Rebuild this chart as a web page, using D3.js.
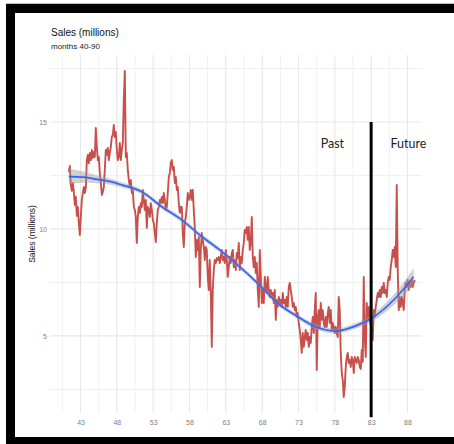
<!DOCTYPE html>
<html>
<head>
<meta charset="utf-8">
<script src="https://cdn.jsdelivr.net/npm/d3@7"></script>
<style>
    body { margin: 0; background: #fff; }
    svg { display: block; }
</style>
</head>
<body>
<div id="chart"></div>
<script>

// sales series, one reading per ~0.14 month, starting at month 41.39
const sales = [
    12.66, 12.94,
    12.06, 11.78, 12.15, 11.73, 11.12, 11.50, 10.61, 11.03, 10.28, 9.72,
    10.56, 11.36, 11.68, 11.96, 11.68, 11.92, 13.22, 13.46, 13.08, 13.55,
    13.22, 13.69, 13.32, 13.60, 13.36, 14.72, 13.83, 13.22, 13.36, 12.62,
    12.15, 11.59, 11.73, 11.96, 12.76, 13.69, 13.46, 13.79, 13.22, 13.55,
    13.83, 14.30, 14.39, 14.86, 14.30, 14.53, 13.69, 13.22, 13.36, 14.02,
    13.22, 13.69, 14.02, 16.03, 17.38, 13.36, 13.55, 12.76, 12.29, 11.96,
    12.29, 11.68, 11.82, 11.03, 10.89, 10.56, 9.35, 10.56, 11.03, 10.75,
    11.21, 11.03, 11.82, 11.36, 10.89, 11.36, 10.05, 11.03, 10.89, 10.56,
    11.21, 10.89, 10.42, 10.28, 9.81, 9.39, 10.28, 10.89, 11.03, 11.36,
    11.21, 11.50, 11.21, 11.68, 11.36, 10.89, 11.03, 11.68, 12.43, 12.62,
    13.08, 13.22, 12.76, 12.90, 12.15, 12.43, 11.82, 11.96, 11.21, 10.75,
    11.03, 11.03, 9.81, 9.16, 10.28, 10.56, 11.03, 11.68, 11.36, 11.50,
    11.82, 11.36, 11.82, 10.89, 10.09, 8.69, 9.49, 9.02, 9.63, 7.29,
    9.02, 9.81, 9.49, 9.16, 8.55, 9.16, 9.02, 7.76, 7.15, 8.55,
    7.01, 4.49, 7.15, 8.08, 8.55, 8.41, 8.64, 8.55, 8.69, 8.41,
    8.69, 9.02, 8.55, 8.69, 8.41, 9.02, 8.55, 7.76, 8.22, 8.69,
    8.41, 8.88, 9.02, 8.22, 8.55, 8.08, 8.88, 8.64, 9.35, 8.08,
    8.69, 8.41, 9.02, 9.35, 9.95, 9.81, 10.09, 9.49, 10.09, 9.02,
    9.35, 10.56, 8.69, 8.22, 8.69, 7.94, 8.41, 7.15, 6.36, 9.02,
    7.76, 6.54, 7.15, 6.54, 7.76, 7.29, 7.01, 7.76, 7.15, 6.82,
    7.15, 6.82, 7.01, 6.54, 7.15, 5.75, 6.68, 6.36, 6.82, 6.54,
    6.68, 6.36, 7.01, 6.54, 6.68, 6.36, 6.82, 6.36, 7.29, 7.48,
    7.15, 6.82, 6.36, 6.54, 6.21, 6.36, 5.89, 6.07, 5.61, 5.28,
    4.81, 4.21, 5.14, 4.49, 4.95, 5.28, 4.81, 5.14, 4.49, 4.95,
    4.67, 5.42, 5.89, 5.14, 6.21, 7.01, 3.41, 5.89, 6.21, 5.42,
    6.54, 5.75, 6.21, 5.61, 5.42, 5.89, 5.42, 6.07, 6.36, 5.61,
    6.21, 5.28, 5.61, 5.42, 5.14, 5.42, 5.14, 4.95, 6.82, 6.21,
    4.21, 3.27, 2.94, 2.15, 2.62, 3.55, 4.02, 4.21, 3.74, 3.88,
    3.55, 4.02, 3.88, 3.27, 4.02, 3.88, 3.74, 4.02, 3.88, 3.55,
    3.46, 4.35, 3.79, 7.76, 4.95, 4.02, 6.54, 5.75, 6.36, 5.75,
    5.51, 5.28, 4.81, 6.21, 5.89, 6.36, 6.68, 7.01, 6.82, 7.15,
    6.82, 7.29, 7.01, 7.48, 7.01, 7.15, 6.82, 7.48, 7.76, 7.62,
    8.22, 8.55, 9.02, 8.69, 9.16, 8.22, 12.06, 8.08, 6.21, 6.82,
    6.36, 6.82, 6.54, 6.21, 7.15, 7.48, 7.29, 7.62, 7.15, 7.48,
    7.29, 7.62, 7.29, 7.48, 7.62
];
const startMonth = 41.39;
const monthStep = 0.1376;

// loess fit, with its band half width
const fitMonths = [41.39, 43.45, 45.28, 47.13, 48.68, 51.43, 54.18, 56.80, 59.41, 62.16,
                   64.77, 67.40, 70.14, 72.75, 75.36, 78.12, 80.73, 83.35, 86.10, 88.85];
const fitValues = [12.45, 12.42, 12.32, 12.21, 12.06, 11.74, 11.04, 10.46, 9.72, 9.02,
                   8.28, 7.46, 6.53, 5.93, 5.43, 5.23, 5.45, 5.89, 6.68, 7.77];
const fitSe = [0.36, 0.26, 0.18, 0.14, 0.12, 0.11, 0.11, 0.11, 0.11, 0.11,
               0.11, 0.11, 0.11, 0.11, 0.12, 0.12, 0.13, 0.17, 0.25, 0.38];

const xTicks = [43, 48, 53, 58, 63, 68, 73, 78, 83, 88];
const xMinor = [40.5, 45.5, 50.5, 55.5, 60.5, 65.5, 70.5, 75.5, 80.5, 85.5];
const yTicks = [5, 10, 15];
const yMinor = [2.5, 7.5, 12.5, 17.5];

const splitMonth = 83;
const splitRange = [1.2, 15];
const splitLabels = [{text: "Past", month: 77.66, value: 13.79}, {text: "Future", month: 88.12, value: 13.79}];

const W = 454, H = 444;
const panel = {left: 50, right: 422, top: 55, bottom: 413};

let svg = d3.select("#chart").append("svg")
    .attr("width", W)
    .attr("height", H);

svg.append("rect").attr("width", W).attr("height", H).attr("fill", "#fff");

let x = d3.scaleLinear().domain([38.8, 90.0]).range([panel.left, panel.right]);
let y = d3.scaleLinear().domain([1.40, 18.13]).range([panel.bottom, panel.top]);

// grid (minor first, then major)
let grid = svg.append("g").attr("class", "grid");
grid.selectAll(".vminor").data(xMinor).enter().append("line")
    .attr("x1", d => x(d)).attr("x2", d => x(d))
    .attr("y1", panel.top).attr("y2", panel.bottom)
    .attr("stroke", "#f0f0f0").attr("stroke-width", 1);
grid.selectAll(".hminor").data(yMinor).enter().append("line")
    .attr("x1", panel.left).attr("x2", panel.right)
    .attr("y1", d => y(d)).attr("y2", d => y(d))
    .attr("stroke", "#f0f0f0").attr("stroke-width", 1);
grid.selectAll(".vmajor").data(xTicks).enter().append("line")
    .attr("x1", d => x(d)).attr("x2", d => x(d))
    .attr("y1", panel.top).attr("y2", panel.bottom)
    .attr("stroke", "#e8e8e8").attr("stroke-width", 1.2);
grid.selectAll(".hmajor").data(yTicks).enter().append("line")
    .attr("x1", panel.left).attr("x2", panel.right)
    .attr("y1", d => y(d)).attr("y2", d => y(d))
    .attr("stroke", "#e8e8e8").attr("stroke-width", 1.2);

// sales line
let salesData = sales.map((v, i) => ({month: startMonth + i * monthStep, value: v}));
svg.append("path")
    .datum(salesData)
    .attr("fill", "none")
    .attr("stroke", "#c8504c")
    .attr("stroke-width", 1.9)
    .attr("stroke-linejoin", "round")
    .attr("d", d3.line().x(d => x(d.month)).y(d => y(d.value)));

// smooth + ribbon
let fitData = fitMonths.map((m, i) => ({month: m, value: fitValues[i], se: fitSe[i]}));
svg.append("path")
    .datum(fitData)
    .attr("fill", "#999")
    .attr("fill-opacity", 0.45)
    .attr("d", d3.area().curve(d3.curveMonotoneX)
        .x(d => x(d.month)).y0(d => y(d.value - d.se)).y1(d => y(d.value + d.se)));
svg.append("path")
    .datum(fitData)
    .attr("fill", "none")
    .attr("stroke", "#3366ff")
    .attr("stroke-width", 1.7)
    .attr("d", d3.line().curve(d3.curveMonotoneX).x(d => x(d.month)).y(d => y(d.value)));

// past / future divider
svg.append("line")
    .attr("x1", x(splitMonth)).attr("x2", x(splitMonth))
    .attr("y1", y(splitRange[1])).attr("y2", y(splitRange[0]))
    .attr("stroke", "#000").attr("stroke-width", 3);
svg.selectAll(".split-label").data(splitLabels).enter().append("text")
    .attr("x", d => x(d.month)).attr("y", d => y(d.value))
    .attr("text-anchor", "middle")
    .style("font-family", "Lato, 'Open Sans', sans-serif")
    .style("font-size", "12.5px")
    .style("fill", "#222")
    .text(d => d.text);

// axes
let xAxis = d3.axisBottom(x).tickValues(xTicks).tickSize(0).tickPadding(7);
let yAxis = d3.axisLeft(y).tickValues(yTicks).tickSize(0).tickPadding(3);
svg.append("g").attr("transform", `translate(0,${panel.bottom})`).call(xAxis)
    .call(g => g.select(".domain").remove());
svg.append("g").attr("transform", `translate(${panel.left},0)`).call(yAxis)
    .call(g => g.select(".domain").remove());
svg.selectAll(".tick text")
    .style("font-family", "'Liberation Sans', Arial, sans-serif")
    .style("font-size", "7px")
    .style("fill", "#808080");

// titles
svg.append("text").attr("x", 51).attr("y", 35.7)
    .style("font-family", "'Liberation Sans', Arial, sans-serif")
    .style("font-size", "10px").style("fill", "#111")
    .text("Sales (millions)");
svg.append("text").attr("x", 51).attr("y", 49)
    .style("font-family", "'Liberation Sans', Arial, sans-serif")
    .style("font-size", "8px").style("fill", "#222")
    .text("months 40-90");
svg.append("text")
    .attr("transform", `translate(35,${(panel.top + panel.bottom) / 2}) rotate(-90)`)
    .attr("text-anchor", "middle")
    .style("font-family", "'Liberation Sans', Arial, sans-serif")
    .style("font-size", "8.5px").style("fill", "#111")
    .text("Sales (millions)");

// screenshot frame
svg.append("rect").attr("x", 6).attr("y", 4).attr("width", W - 6).attr("height", 9).attr("fill", "#000");
svg.append("rect").attr("x", 6).attr("y", 4).attr("width", 9).attr("height", H - 4).attr("fill", "#000");
svg.append("rect").attr("x", 6).attr("y", 437).attr("width", W - 6).attr("height", 7).attr("fill", "#000");
svg.append("line").attr("x1", 6).attr("x2", W).attr("y1", 3.5).attr("y2", 3.5).attr("stroke", "#bbb");

</script>
</body>
</html>
